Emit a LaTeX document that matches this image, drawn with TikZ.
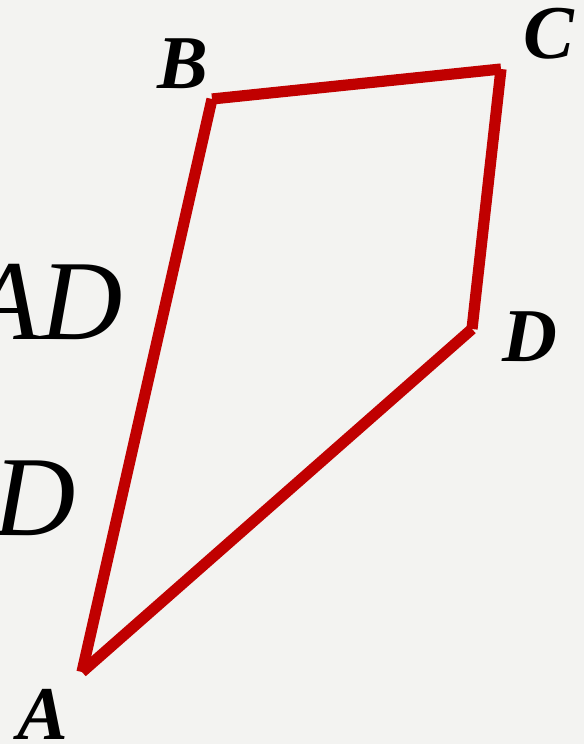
\documentclass[tikz,border=0pt]{standalone}
\usepackage{fontspec}
\setmainfont{Liberation Serif}
\usetikzlibrary{positioning}
\definecolor{paperbg}{RGB}{243,243,241}
\definecolor{edgered}{RGB}{192,0,0}
\tikzset{
  edge/.style={draw=edgered,line width=5.6pt,line cap=butt},
  vlabel/.style={inner sep=0pt,font=\fontsize{38}{40}\selectfont\bfseries\itshape},
  bigtext/.style={inner sep=0pt,anchor=base east,font=\fontsize{57}{60}\selectfont\itshape}
}

\begin{document}
\begin{tikzpicture}[x=0.5pt,y=-0.5pt]
  \fill[paperbg] (0,0) rectangle (584,744);
  \useasboundingbox (0,0) rectangle (584,744);

  % Cut-off text at the left edge
  \node[bigtext] (txtone) at (123,339) {AD};
  \node[bigtext] (txttwo) at (76,535) {KD};

  % Vertices
  \coordinate (A) at (82,672);
  \coordinate (B) at (212,99);
  \coordinate (C) at (501,69);
  \coordinate (D) at (472,329);

  % Quadrilateral, each side on its own
  \draw[edge] (A) -- (B);
  \draw[edge] (B) -- (C);
  \draw[edge] (C) -- (D);
  \draw[edge] (D) -- (A);

  % Vertex labels
  \node[vlabel] (labA) at (43,714) {A};
  \node[vlabel] (labB) at (183,64) {B};
  \node[vlabel] (labC) at (549,34) {C};
  \node[vlabel] (labD) at (530,337) {D};
\end{tikzpicture}
\end{document}
